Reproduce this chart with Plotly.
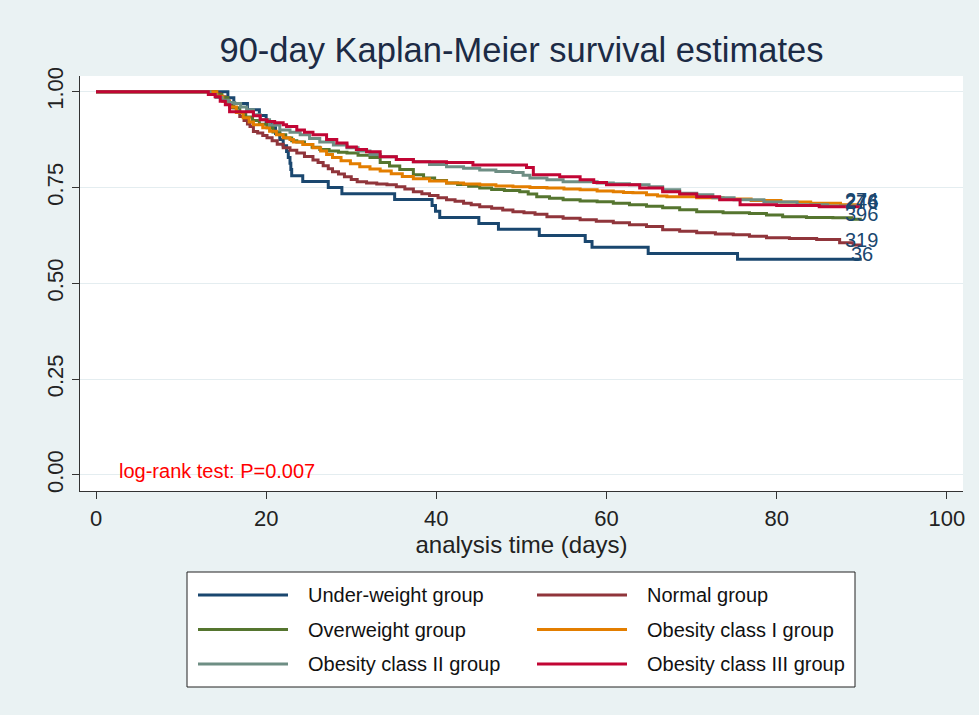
import plotly.graph_objects as go

# ---------------- data ----------------
GROUPS = ["Under-weight group", "Normal group", "Overweight group",
          "Obesity class I group", "Obesity class II group", "Obesity class III group"]
COLORS = ["#1a476f", "#90353b", "#55752f", "#e37e00", "#6e8e84", "#c10534"]
AT_RISK = ["36", "319", "396", "274", "246", "276"]

UW_T = [0, 15.5, 16.2, 17.8, 19.2, 20.0, 20.6, 21.1, 21.6, 22.0,
        22.4, 22.6, 22.8, 22.9, 23.0, 24.3, 27.3, 28.9, 35.1, 39.5,
        39.9, 40.4, 45.0, 47.3, 52.1, 57.5, 58.3, 64.9, 75.4, 90]
UW_S = [1.0, 0.984, 0.969, 0.953, 0.938, 0.922, 0.906, 0.891, 0.875, 0.859,
        0.844, 0.828, 0.813, 0.797, 0.781, 0.766, 0.750, 0.734, 0.719, 0.703,
        0.688, 0.672, 0.656, 0.641, 0.625, 0.609, 0.594, 0.578, 0.563, 0.563]

NM_T = [0, 14.0, 14.6, 15.2, 15.6, 16.0, 16.5, 16.9, 17.4, 17.8,
        18.1, 18.5, 19.0, 19.6, 20.1, 20.7, 21.3, 22.0, 22.8, 23.6,
        24.5, 25.5, 26.1, 26.7, 27.3, 27.8, 28.5, 29.2, 30.0, 30.7,
        31.8, 33.0, 34.2, 35.3, 36.3, 37.3, 38.3, 39.2, 40.2, 41.2,
        42.2, 43.2, 44.1, 45.1, 46.5, 47.8, 49.0, 50.3, 51.6, 53.0,
        54.9, 56.9, 58.8, 60.8, 62.7, 64.7, 66.6, 68.6, 70.6, 72.8,
        74.9, 76.8, 78.8, 81.5, 84.7, 87.4, 89.0, 90]
NM_S = [1.0, 0.995, 0.987, 0.978, 0.968, 0.958, 0.947, 0.935, 0.925, 0.916,
        0.909, 0.896, 0.892, 0.886, 0.880, 0.872, 0.863, 0.854, 0.847, 0.840,
        0.831, 0.822, 0.815, 0.807, 0.799, 0.791, 0.785, 0.778, 0.771, 0.765,
        0.762, 0.759, 0.757, 0.752, 0.746, 0.739, 0.734, 0.729, 0.723, 0.718,
        0.714, 0.709, 0.705, 0.700, 0.696, 0.691, 0.687, 0.684, 0.680, 0.674,
        0.670, 0.666, 0.662, 0.658, 0.653, 0.648, 0.640, 0.636, 0.632, 0.629,
        0.627, 0.623, 0.619, 0.617, 0.614, 0.606, 0.600, 0.600]

OW_T = [0, 14.0, 14.8, 15.5, 16.2, 16.9, 17.6, 18.4, 19.2, 20.1,
        20.8, 21.6, 22.3, 23.0, 23.6, 24.5, 25.4, 26.3, 27.4, 28.5,
        29.5, 30.8, 32.2, 33.4, 34.5, 35.7, 37.3, 38.5, 39.8, 41.2,
        42.5, 43.8, 45.1, 46.5, 48.0, 49.8, 50.8, 51.8, 53.3, 54.9,
        56.9, 58.9, 60.8, 62.7, 64.7, 66.6, 68.6, 70.6, 73.7, 76.8,
        78.8, 80.7, 83.5, 86.6, 88.8, 90]
OW_S = [1.0, 0.993, 0.985, 0.972, 0.958, 0.945, 0.934, 0.925, 0.915, 0.906,
        0.895, 0.888, 0.879, 0.872, 0.869, 0.862, 0.855, 0.849, 0.845, 0.842,
        0.840, 0.834, 0.828, 0.815, 0.806, 0.797, 0.783, 0.775, 0.768, 0.762,
        0.758, 0.753, 0.749, 0.745, 0.742, 0.739, 0.733, 0.726, 0.722, 0.718,
        0.715, 0.713, 0.709, 0.705, 0.701, 0.697, 0.692, 0.687, 0.684, 0.682,
        0.678, 0.674, 0.672, 0.671, 0.667, 0.667]

O1_T = [0, 14.2, 14.9, 15.7, 16.5, 17.3, 18.0, 18.5, 19.6, 20.4,
        21.2, 22.0, 22.8, 23.2, 24.3, 25.5, 26.4, 27.1, 27.8, 28.8,
        29.9, 31.0, 32.2, 33.4, 34.7, 36.0, 37.3, 39.2, 41.2, 43.2,
        45.1, 47.0, 49.0, 51.0, 53.0, 55.0, 56.9, 58.9, 60.8, 62.0,
        63.1, 64.7, 66.0, 67.1, 70.6, 73.7, 77.0, 80.5, 84.0, 87.5,
        90]
O1_S = [1.0, 0.988, 0.975, 0.960, 0.946, 0.932, 0.921, 0.914, 0.906, 0.897,
        0.888, 0.880, 0.875, 0.869, 0.862, 0.854, 0.845, 0.836, 0.828, 0.820,
        0.812, 0.804, 0.798, 0.793, 0.786, 0.779, 0.773, 0.767, 0.762, 0.759,
        0.757, 0.754, 0.752, 0.750, 0.749, 0.746, 0.744, 0.741, 0.739, 0.737,
        0.736, 0.731, 0.728, 0.726, 0.723, 0.720, 0.716, 0.712, 0.709, 0.705,
        0.705]

O2_T = [0, 13.4, 14.1, 14.8, 15.6, 16.3, 17.0, 17.7, 18.5, 19.3,
        20.4, 21.6, 22.8, 24.0, 25.1, 26.3, 27.9, 29.5, 30.8, 32.2,
        33.4, 35.3, 37.3, 39.2, 41.2, 43.2, 45.1, 47.0, 49.0, 50.2,
        51.0, 53.0, 54.9, 58.9, 60.8, 62.7, 65.0, 66.6, 68.6, 70.6,
        72.5, 75.0, 78.5, 82.4, 86.0, 90]
O2_S = [1.0, 0.993, 0.985, 0.978, 0.972, 0.969, 0.960, 0.953, 0.940, 0.927,
        0.913, 0.900, 0.894, 0.888, 0.878, 0.869, 0.861, 0.854, 0.845, 0.836,
        0.830, 0.823, 0.817, 0.810, 0.804, 0.800, 0.796, 0.792, 0.789, 0.782,
        0.775, 0.770, 0.765, 0.762, 0.760, 0.757, 0.752, 0.744, 0.735, 0.731,
        0.723, 0.718, 0.712, 0.705, 0.702, 0.702]

O3_T = [0, 13.2, 14.0, 14.6, 15.2, 15.7, 18.5, 19.3, 20.1, 21.0,
        22.0, 22.4, 23.6, 24.5, 25.5, 27.1, 28.3, 29.5, 30.6, 31.8,
        33.4, 35.3, 37.3, 41.2, 44.3, 50.6, 51.4, 54.5, 56.9, 58.5,
        60.0, 63.9, 66.6, 68.6, 70.6, 73.3, 75.7, 80.0, 85.0, 90]
O3_S = [1.0, 0.993, 0.987, 0.975, 0.966, 0.948, 0.937, 0.927, 0.922, 0.919,
        0.914, 0.909, 0.900, 0.894, 0.888, 0.875, 0.866, 0.856, 0.849, 0.843,
        0.830, 0.823, 0.817, 0.815, 0.809, 0.802, 0.783, 0.778, 0.770, 0.763,
        0.757, 0.749, 0.739, 0.733, 0.726, 0.718, 0.705, 0.703, 0.700, 0.700]

TIMES = [UW_T, NM_T, OW_T, O1_T, O2_T, O3_T]
SURV = [UW_S, NM_S, OW_S, O1_S, O2_S, O3_S]

X_TICKS = [0, 20, 40, 60, 80, 100]
Y_TICKS = [0, 0.25, 0.5, 0.75, 1.0]
Y_TICKTEXT = ["0.00", "0.25", "0.50", "0.75", "1.00"]
TITLE = "90-day Kaplan-Meier survival estimates"
X_TITLE = "analysis time (days)"
NOTE = "log-rank test: P=0.007"

# ---------------- figure ----------------
W, H = 979, 715
ML, MR, MT, MB = 80, 16, 76, 224
PW, PH = W - ML - MR, H - MT - MB
FONT = "Liberation Sans, Arial, sans-serif"
BG = "#eaf2f3"


def px_x(px):
    return (px - ML) / PW


def px_y(py):
    return (H - MB - py) / PH


fig = go.Figure()
for name, color, t, s in zip(GROUPS, COLORS, TIMES, SURV):
    assert len(t) == len(s), name
    fig.add_trace(go.Scatter(x=t, y=s, mode="lines", name=name,
                             line=dict(color=color, width=3, shape="hv"),
                             showlegend=False))

annotations = []
# numbers at risk at the end of each curve
for t, s, lab in zip(TIMES, SURV, AT_RISK):
    annotations.append(dict(x=t[-1], y=s[-1], xref="x", yref="y", text=lab,
                            showarrow=False, xanchor="center", yanchor="middle",
                            yshift=5, font=dict(size=20, color="#1a476f", family=FONT)))
# log-rank note
annotations.append(dict(x=2.5, y=0.01, xref="x", yref="y", text=NOTE, showarrow=False,
                        xanchor="left", yanchor="middle",
                        font=dict(size=20, color="#ff0000", family=FONT)))

# custom legend (long line samples as in the reference)
shapes = [dict(type="rect", xref="paper", yref="paper",
               x0=px_x(187), x1=px_x(855), y0=px_y(687), y1=px_y(572),
               line=dict(color="#222222", width=1), fillcolor="white", layer="below")]
for i, (name, color) in enumerate(zip(GROUPS, COLORS)):
    col, row = i % 2, i // 2
    lx = 198 + col * 339
    ly = 595 + row * 34.5
    shapes.append(dict(type="line", xref="paper", yref="paper",
                       x0=px_x(lx), x1=px_x(lx + 90), y0=px_y(ly), y1=px_y(ly),
                       line=dict(color=color, width=3)))
    annotations.append(dict(x=px_x(lx + 108), y=px_y(ly), xref="paper", yref="paper",
                            text=name, showarrow=False, xanchor="left", yanchor="middle",
                            font=dict(size=20, color="#111111", family=FONT)))

fig.update_layout(
    width=W, height=H, autosize=False,
    margin=dict(l=ML, r=MR, t=MT, b=MB),
    paper_bgcolor=BG, plot_bgcolor="white",
    title=dict(text=TITLE, x=0.5, xref="paper", xanchor="center",
               y=1 - 50 / H, yref="container", yanchor="middle",
               font=dict(size=34.5, color="#1c2b45", family=FONT)),
    showlegend=False,
    shapes=shapes,
    annotations=annotations,
    xaxis=dict(range=[-1.88, 101.9], tickvals=X_TICKS, ticks="outside", ticklen=7,
               tickcolor="#333333", showline=True, linecolor="#333333", linewidth=1.2,
               showgrid=False, zeroline=False,
               tickfont=dict(size=22, color="#222222", family=FONT),
               title=dict(text=X_TITLE, standoff=6,
                          font=dict(size=24, color="#222222", family=FONT))),
    yaxis=dict(range=[-0.042, 1.041], tickvals=Y_TICKS, ticktext=Y_TICKTEXT,
               tickangle=-90, ticks="outside", ticklen=7, tickcolor="#333333",
               showline=True, linecolor="#333333", linewidth=1.2,
               showgrid=True, gridcolor="#e4edf0", gridwidth=1.2, zeroline=False,
               tickfont=dict(size=22, color="#222222", family=FONT)),
)

fig.write_html("out.html")
